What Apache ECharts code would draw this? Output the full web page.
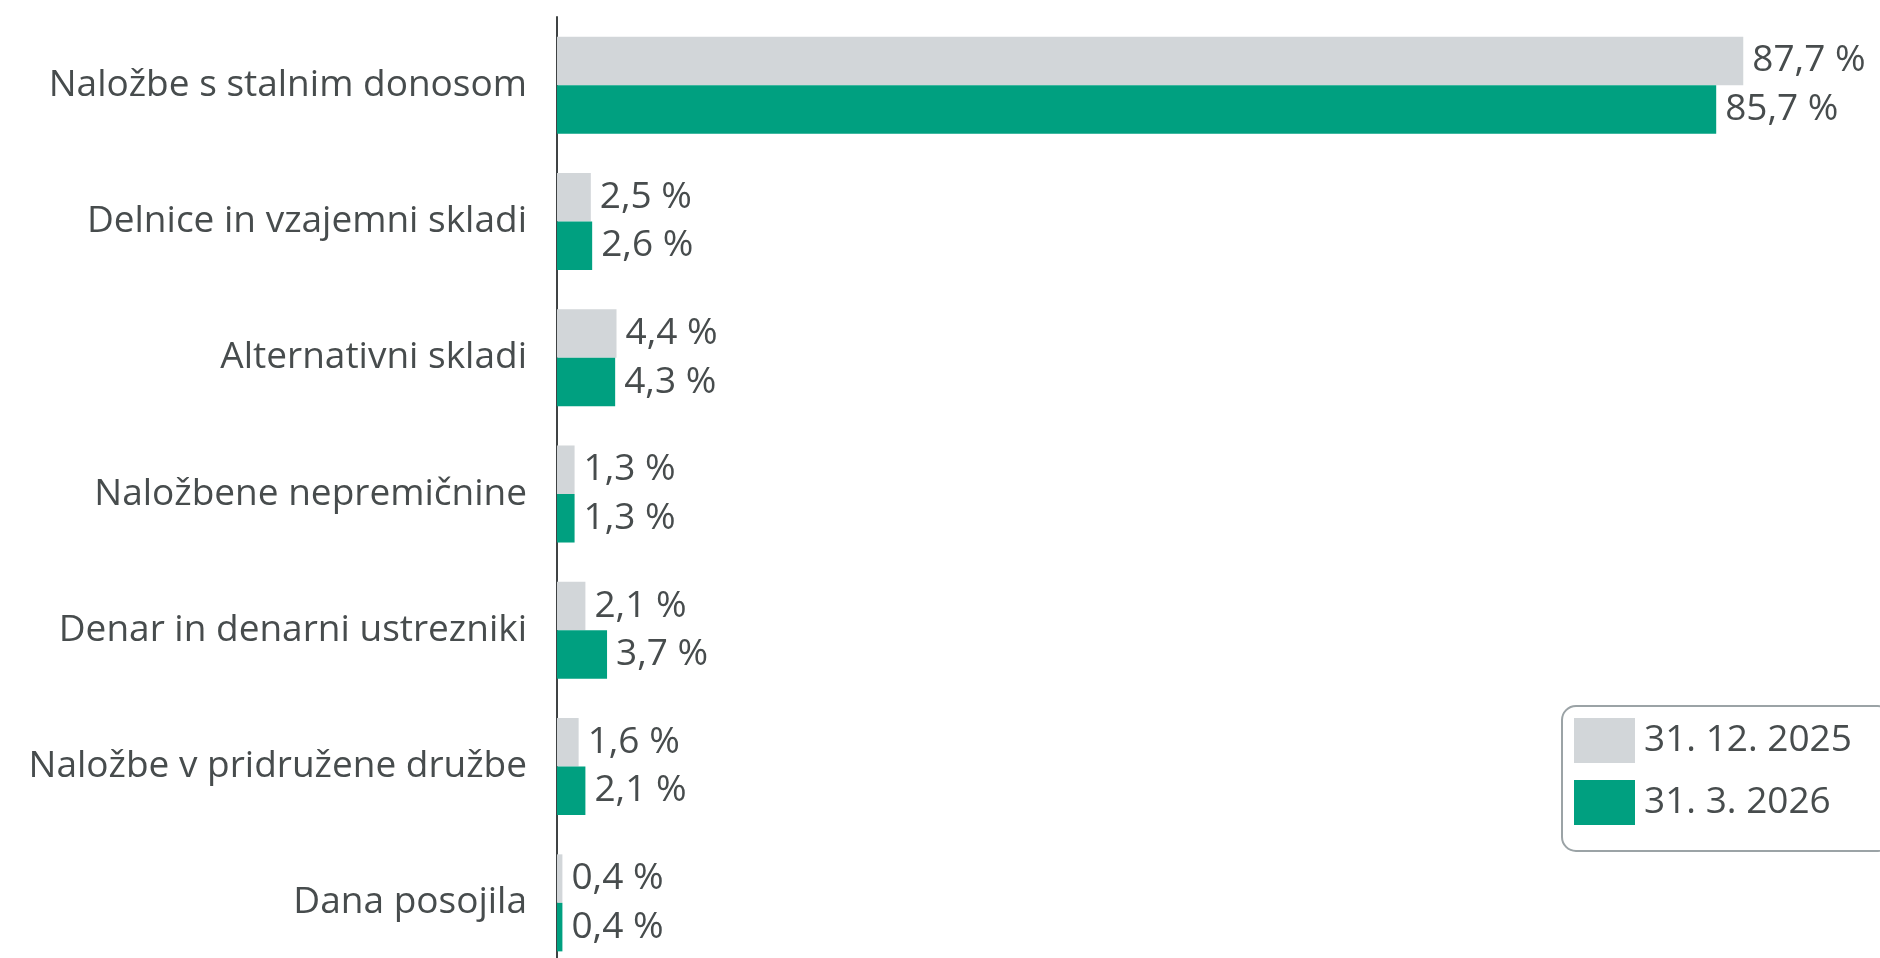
<!DOCTYPE html>
<html>
<head>
<meta charset="utf-8">
<script src="https://cdn.jsdelivr.net/npm/echarts@6/dist/echarts.min.js"></script>
<style>
  html, body { margin: 0; padding: 0; background: #ffffff; }
  #chart { width: 1880px; height: 958px; }
</style>
</head>
<body>
<div id="chart"></div>
<script>
// Investment portfolio structure by asset class (share in %)
const categories = [
  'Naložbe s stalnim donosom',
  'Delnice in vzajemni skladi',
  'Alternativni skladi',
  'Naložbene nepremičnine',
  'Denar in denarni ustrezniki',
  'Naložbe v pridružene družbe',
  'Dana posojila'
];
const seriesNames = ['31. 12. 2025', '31. 3. 2026'];
const valuesDec2025 = [87.7, 2.5, 4.4, 1.3, 2.1, 1.6, 0.4];
const valuesMar2026 = [85.7, 2.6, 4.3, 1.3, 3.7, 2.1, 0.4];

const textColor = '#474c4d';
const fontFamily = '"Open Sans", "Noto Sans", sans-serif';
const fontSize = 37;

const fmt = (v) => v.toFixed(1).replace('.', ',') + ' %';

const valueLabel = {
  show: true,
  position: 'right',
  distance: 9,
  color: textColor,
  fontFamily: fontFamily,
  fontSize: fontSize,
  padding: [4, 0, 0, 0],
  formatter: (p) => fmt(p.value)
};

const chart = echarts.init(document.getElementById('chart'));
chart.setOption({
  animation: false,
  backgroundColor: '#ffffff',
  textStyle: { fontFamily: fontFamily, color: textColor },
  grid: {
    left: 557, top: 17, width: 1285, height: 954,
    containLabel: false,
    outerBoundsMode: 'none'
  },
  xAxis: {
    type: 'value',
    min: 0,
    max: 95,
    show: false
  },
  yAxis: {
    type: 'category',
    data: categories,
    inverse: true,
    axisLine: { show: true, lineStyle: { color: '#3f4344', width: 2 } },
    axisTick: { show: false },
    axisLabel: {
      margin: 30,
      color: textColor,
      fontFamily: fontFamily,
      fontSize: fontSize,
      padding: [9, 0, 0, 0]
    }
  },
  legend: {
    orient: 'vertical',
    left: 1562,
    top: 706,
    padding: [12, 40, 26, 12],
    itemWidth: 61,
    itemHeight: 45,
    itemGap: 17,
    borderColor: '#9ba3a6',
    borderWidth: 2,
    borderRadius: 14,
    icon: 'rect',
    textStyle: { color: textColor, fontFamily: fontFamily, fontSize: fontSize, padding: [0, 0, 0, 4] },
    data: seriesNames
  },
  series: [
    {
      name: seriesNames[0],
      type: 'bar',
      data: valuesDec2025,
      itemStyle: { color: '#d2d6d9' },
      barGap: '0%',
      barCategoryGap: '28.8%',
      label: valueLabel
    },
    {
      name: seriesNames[1],
      type: 'bar',
      data: valuesMar2026,
      itemStyle: { color: '#00a080' },
      barGap: '0%',
      barCategoryGap: '28.8%',
      label: valueLabel
    }
  ]
});
</script>
</body>
</html>
